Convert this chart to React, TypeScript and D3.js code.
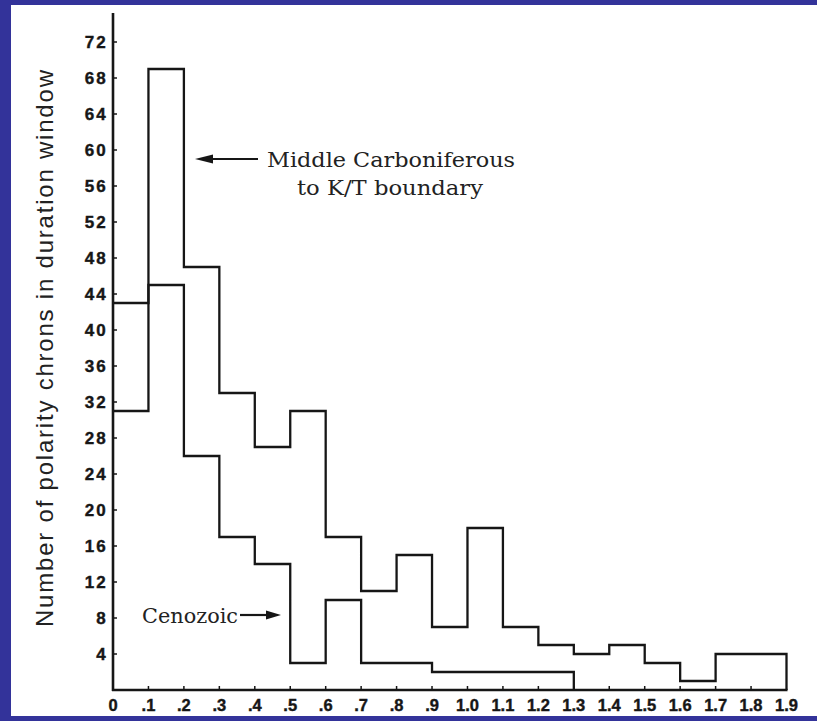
import React from "react";
import * as d3 from "d3";

// Bin edges (duration, Myr) and counts per 0.1 bin
const binEdges = [0, 0.1, 0.2, 0.3, 0.4, 0.5, 0.6, 0.7, 0.8, 0.9, 1.0, 1.1, 1.2, 1.3, 1.4, 1.5, 1.6, 1.7, 1.8, 1.9];
const carboniferousCounts = [31, 69, 47, 33, 27, 31, 17, 11, 15, 7, 18, 7, 5, 4, 5, 3, 1, 4, 4];
const cenozoicCounts = [43, 45, 26, 17, 14, 3, 10, 3, 3, 2, 2, 2, 2];

const yTicks = [4, 8, 12, 16, 20, 24, 28, 32, 36, 40, 44, 48, 52, 56, 60, 64, 68, 72];
const xTickLabels = ["0", ".1", ".2", ".3", ".4", ".5", ".6", ".7", ".8", ".9", "1.0", "1.1", "1.2", "1.3", "1.4", "1.5", "1.6", "1.7", "1.8", "1.9"];

const yTitle = "Number of polarity chrons in duration window";
const annoTop1 = "Middle Carboniferous";
const annoTop2 = "to K/T boundary";
const annoBottom = "Cenozoic";

const W = 817;
const H = 721;
const INK = "#161616";

function stepPoints(counts: number[]): [number, number][] {
  const pts: [number, number][] = counts.map((c, i) => [binEdges[i], c]);
  const end = binEdges[counts.length];
  pts.push([end, counts[counts.length - 1]]);
  pts.push([end, 0]);
  return pts;
}

export default function App() {
  const x = d3.scaleLinear().domain([0, 1.9]).range([113, 786.5]);
  const y = d3.scaleLinear().domain([0, 72]).range([690, 42]);

  const line = d3
    .line<[number, number]>()
    .x((d) => x(d[0]))
    .y((d) => y(d[1]))
    .curve(d3.curveStepAfter);

  const sans = "'Liberation Sans', Arial, sans-serif";
  const serif = "'DejaVu Serif', 'Liberation Serif', serif";

  return (
    <svg
      width={W}
      height={H}
      style={{ position: "absolute", left: 0, top: 0, display: "block" }}
    >
      <rect x={0} y={0} width={W} height={H} fill="#33339a" />
      <rect x={11} y={5} width={W - 11} height={711} fill="#ffffff" />

      {/* histogram step lines */}
      <path d={line(stepPoints(carboniferousCounts)) || ""} fill="none" stroke={INK} strokeWidth={2.3} />
      <path d={line(stepPoints(cenozoicCounts)) || ""} fill="none" stroke={INK} strokeWidth={2.3} />

      {/* axes */}
      <line x1={x(0)} x2={x(0)} y1={13} y2={y(0) + 1} stroke={INK} strokeWidth={2.6} />
      <line x1={x(0) - 1} x2={x(1.9) + 1} y1={y(0)} y2={y(0)} stroke={INK} strokeWidth={2.6} />

      {yTicks.map((t) => (
        <g key={"y" + t}>
          <line x1={x(0)} x2={x(0) + 4} y1={y(t)} y2={y(t)} stroke={INK} strokeWidth={1.5} />
          <text
            x={108}
            y={y(t)}
            dy="0.36em"
            textAnchor="end"
            fontFamily={sans}
            fontWeight="bold"
            fontSize={17}
            letterSpacing={2.2}
            stroke={INK}
            strokeWidth={0.4}
            fill={INK}
          >
            {t}
          </text>
        </g>
      ))}

      {xTickLabels.map((lab, i) => (
        <g key={"x" + i}>
          {i > 0 && i < 19 ? (
            <line x1={x(binEdges[i])} x2={x(binEdges[i])} y1={y(0)} y2={y(0) - 4} stroke={INK} strokeWidth={1.5} />
          ) : null}
          <text
            x={x(binEdges[i])}
            y={711}
            textAnchor="middle"
            fontFamily={sans}
            fontWeight="bold"
            fontSize={16.5}
            stroke={INK}
            strokeWidth={0.4}
            fill={INK}
          >
            {lab}
          </text>
        </g>
      ))}

      {/* y axis title */}
      <text
        transform="translate(53,348.5) rotate(-90)"
        textAnchor="middle"
        fontFamily={sans}
        fontSize={24}
        textLength={557}
        lengthAdjust="spacing"
        fill="#222"
      >
        {yTitle}
      </text>

      {/* annotations */}
      <line x1={258} x2={205} y1={159} y2={159} stroke={INK} strokeWidth={2.2} />
      <path d="M195,159 L213,154.5 L213,163.5 Z" fill={INK} />
      <text x={267} y={167} fontFamily={serif} fontSize={21} textLength={248} lengthAdjust="spacingAndGlyphs" fill="#222">
        {annoTop1}
      </text>
      <text x={297} y={195} fontFamily={serif} fontSize={21} textLength={186} lengthAdjust="spacingAndGlyphs" fill="#222">
        {annoTop2}
      </text>

      <text x={142} y={623} fontFamily={serif} fontSize={21} textLength={96} lengthAdjust="spacingAndGlyphs" fill="#222">
        {annoBottom}
      </text>
      <line x1={240} x2={270} y1={615} y2={615} stroke={INK} strokeWidth={2.2} />
      <path d="M281,615 L266,610.5 L266,619.5 Z" fill={INK} />
    </svg>
  );
}
